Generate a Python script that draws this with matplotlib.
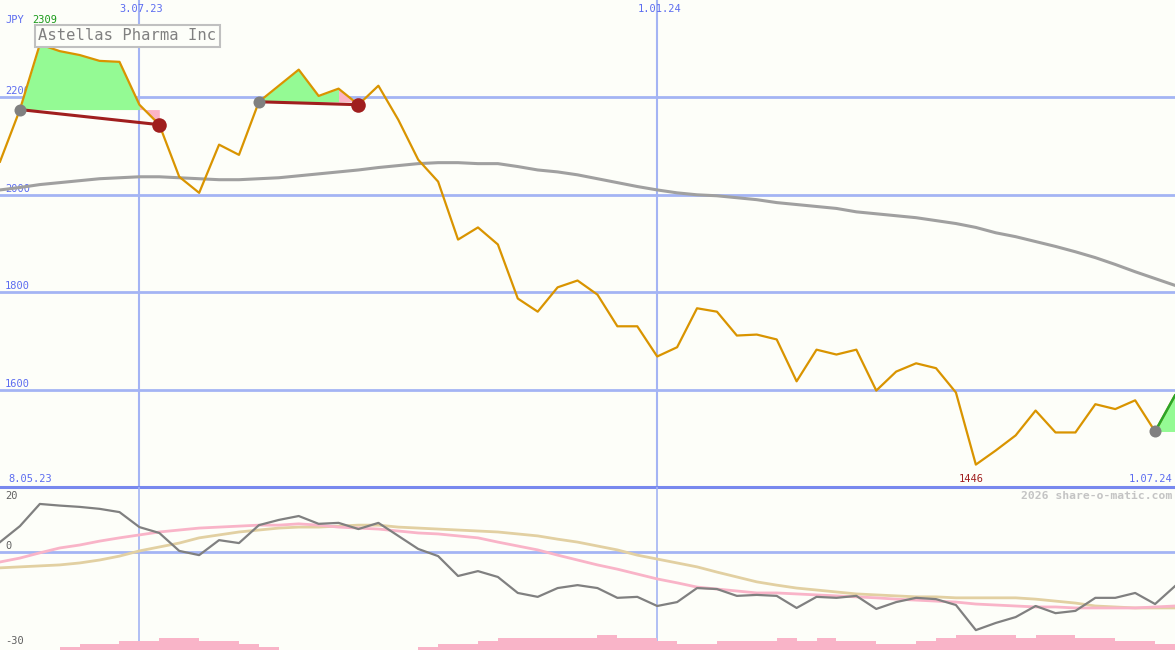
import matplotlib
matplotlib.use("Agg")
import matplotlib.pyplot as plt
import matplotlib.dates as mdates
import pandas as pd
import numpy as np

TITLE = "Astellas Pharma Inc"
CURRENCY = "JPY"

# weekly closes, 15.05.23 .. 1.07.24
dates = pd.date_range("2023-05-15", periods=60, freq="7D")
price = [2068, 2175, 2309, 2295, 2287, 2275, 2273, 2185, 2144, 2037,
         2004, 2103, 2082, 2191, 2224, 2257, 2203, 2218, 2185, 2224,
         2154, 2072, 2027, 1908, 1933, 1898, 1787, 1760, 1810, 1824,
         1795, 1730, 1730, 1668, 1687, 1767, 1760, 1711, 1713, 1703,
         1617, 1682, 1672, 1682, 1598, 1637, 1654, 1644, 1594, 1446,
         1475, 1506, 1557, 1512, 1512, 1570, 1560, 1578, 1514, 1588]
ma_long = [2010, 2015, 2021, 2025, 2029, 2033, 2035, 2037, 2037, 2035,
           2033, 2031, 2031, 2033, 2035, 2039, 2043, 2047, 2051, 2056,
           2060, 2064, 2066, 2066, 2064, 2064, 2058, 2051, 2047, 2041,
           2033, 2025, 2017, 2010, 2004, 2000, 1998, 1994, 1990, 1984,
           1980, 1976, 1972, 1965, 1961, 1957, 1953, 1947, 1941, 1933,
           1922, 1914, 1904, 1894, 1883, 1871, 1857, 1842, 1828, 1814]

# oscillator panel
osc = [3.1, 8.0, 14.8, 14.3, 13.9, 13.3, 12.3, 7.7, 5.9, 0.4,
       -0.9, 3.7, 2.8, 8.3, 9.9, 11.1, 8.7, 9.0, 7.1, 9.0,
       5.0, 1.0, -1.2, -7.3, -5.8, -7.6, -12.5, -13.7, -11.0, -10.1,
       -11.0, -14.0, -13.7, -16.5, -15.3, -11.0, -11.3, -13.4, -13.1, -13.4,
       -17.1, -13.7, -14.0, -13.4, -17.4, -15.3, -14.0, -14.4, -16.2, -23.9,
       -21.7, -19.9, -16.5, -18.7, -18.0, -14.0, -14.0, -12.5, -15.9, -10.4]
osc_pink = [-3.0, -1.8, -0.2, 1.3, 2.2, 3.4, 4.4, 5.3, 6.2, 6.8,
            7.4, 7.7, 8.0, 8.3, 8.3, 8.7, 8.3, 7.7, 7.4, 7.1,
            6.5, 5.9, 5.6, 5.0, 4.4, 3.1, 1.9, 0.7, -0.9, -2.4,
            -3.9, -5.2, -6.7, -8.2, -9.4, -10.7, -11.3, -11.9, -12.5, -12.5,
            -12.8, -13.1, -13.4, -13.7, -14.0, -14.4, -14.7, -15.0, -15.3, -15.9,
            -16.2, -16.5, -16.8, -16.8, -17.1, -17.1, -17.1, -17.1, -16.8, -16.5]
osc_tan = [-4.8, -4.5, -4.2, -3.9, -3.3, -2.4, -1.2, 0.4, 1.6, 2.8,
           4.4, 5.3, 6.2, 6.8, 7.4, 7.7, 7.7, 8.0, 8.3, 8.3,
           7.7, 7.4, 7.1, 6.8, 6.5, 6.2, 5.6, 5.0, 4.0, 3.1,
           1.9, 0.7, -0.9, -2.1, -3.3, -4.5, -6.1, -7.6, -9.1, -10.1,
           -11.0, -11.6, -12.2, -12.8, -13.1, -13.4, -13.7, -13.7, -14.0, -14.0,
           -14.0, -14.0, -14.4, -15.0, -15.6, -16.5, -16.8, -17.1, -17.1, -17.1]
bars = [0, 0, 0, 1, 2, 2, 3, 3, 4, 4,
        3, 3, 2, 1, 0, 0, 0, 0, 0, 0,
        0, 1, 2, 2, 3, 4, 4, 4, 4, 4,
        5, 4, 4, 3, 2, 2, 3, 3, 3, 4,
        3, 4, 3, 3, 2, 2, 3, 4, 5, 5,
        5, 4, 5, 5, 4, 4, 3, 3, 2, 0]

# signals: (buy index, sell index or None)
signals = [(1, 8), (13, 18), (58, None)]

x_ticks = ["2023-07-03", "2024-01-01"]
x_tick_labels = ["3.07.23", "1.01.24"]
y_ticks = [2200, 2000, 1800, 1600]

BG = "#fdfef9"
GRID = "#a4b4f4"
BLUE = "#5c6cf0"
MONO = "DejaVu Sans Mono"

fig = plt.figure(figsize=(11.75, 6.5), dpi=100, facecolor=BG)
ax = fig.add_axes([0, 163 / 650, 1, 487 / 650], facecolor=BG)
ax2 = fig.add_axes([0, 0, 1, 163 / 650], facecolor=BG)
axv = ax2.twinx()

x = mdates.date2num(dates)
p = np.array(price, dtype=float)
xmin, xmax = x[0], x[-1]

for a in (ax, ax2, axv):
    a.set_xlim(xmin, xmax)
    a.axis("off")
ax.set_ylim(1400, 2400)
ax2.set_ylim(-30, 20)
axv.set_ylim(0, 54.3)

# grid
for v in y_ticks:
    ax.axhline(v, color=GRID, lw=2, zorder=1)
    ax.annotate(str(v), xy=(0, v), xycoords=ax.get_yaxis_transform(),
                xytext=(5, 1), textcoords="offset pixels", va="bottom",
                ha="left", color=BLUE, fontsize=7.5, family=MONO, zorder=1)
for d, lab in zip(x_ticks, x_tick_labels):
    xd = mdates.date2num(pd.Timestamp(d))
    ax.axvline(xd, color=GRID, lw=1.5, zorder=1)
    ax2.axvline(xd, color=GRID, lw=1.2, zorder=1)
    ax.annotate(lab, xy=(xd, 1), xycoords=ax.get_xaxis_transform(),
                xytext=(2, -4), textcoords="offset pixels", ha="center",
                va="top", color=BLUE, fontsize=7.5, family=MONO)
ax.axhline(1400, color="#7888ee", lw=2.2, zorder=5, clip_on=False)
ax2.axhline(0, color=GRID, lw=2, zorder=1)

# price, long average
ax.plot(x, ma_long, color="#a0a0a0", lw=2.2, zorder=3)

for b, s in signals:
    lvl = p[b]
    end = s if s is not None else len(p) - 1
    last = end - 1 if s is not None else end
    ax.fill_between(x[b:last + 1], p[b:last + 1], lvl, color="#94fa94",
                    lw=0, zorder=2)
    if s is not None:
        ax.fill_between(x[s - 1:s + 1], p[s - 1:s + 1], lvl, color="#fcb4c6",
                        lw=0, zorder=2)

ax.plot(x, p, color="#d99400", lw=1.6, zorder=4)

for b, s in signals:
    if s is None:
        ax.plot(x[b:], p[b:], color="#2aa52a", lw=1.8, zorder=4)
        ax.scatter([x[b]], [p[b]], s=75, color="#808080", zorder=6, lw=0)
    else:
        ax.plot([x[b], x[s]], [p[b], p[s]], color="#a01e1e", lw=2.2, zorder=5)
        ax.scatter([x[b]], [p[b]], s=75, color="#808080", zorder=6, lw=0)
        ax.scatter([x[s]], [p[s]], s=110, color="#a01e1e", zorder=6, lw=0)

# labels main panel
ax.annotate(CURRENCY, xy=(5, 650 - 20), xycoords="figure pixels", color=BLUE,
            fontsize=7.5, family=MONO, va="center")
ax.annotate(f"{max(price)}", xy=(32, 650 - 20), xycoords="figure pixels",
            color="#1a9a1a", fontsize=7.5, family=MONO, va="center")
ax.annotate(TITLE, xy=(38, 650 - 36), xycoords="figure pixels", color="#808080",
            fontsize=11.2, family=MONO, va="center", ha="left",
            bbox=dict(boxstyle="square,pad=0.22", fc=BG, ec="#c0c0c0", lw=1.5),
            zorder=7)
ax.annotate("8.05.23", xy=(8, 650 - 479), xycoords="figure pixels", color=BLUE,
            fontsize=7.5, family=MONO, va="center")
imin = int(np.argmin(p))
ax.annotate(f"{min(price)}", xy=(x[imin], 1400), xycoords="data",
            xytext=(-5, 8), textcoords="offset pixels", color="#a01e1e",
            fontsize=7.5, family=MONO, va="center", ha="center")
ax.annotate("1.07.24", xy=(1172, 650 - 479), xycoords="figure pixels",
            color=BLUE, fontsize=7.5, family=MONO, va="center", ha="right")
ax.annotate("2026 share-o-matic.com", xy=(1172, 650 - 496),
            xycoords="figure pixels", color="#c4c4c4", fontsize=8.2,
            family=MONO, weight="bold", va="center", ha="right")

# oscillator panel
axv.bar(x, bars, width=7, align="edge", color="#f9b4c8", lw=0, zorder=1)
ax2.plot(x, osc_tan, color="#e2d0a2", lw=2, zorder=3)
ax2.plot(x, osc_pink, color="#f9b4c8", lw=2, zorder=3)
ax2.plot(x, osc, color="#808080", lw=1.6, zorder=4)
for v, yy in (("20", 496), ("0", 546), ("-30", 641)):
    ax2.annotate(v, xy=(5, 650 - yy), xycoords="figure pixels", color="#606060",
                 fontsize=7.5, family=MONO, va="center")

fig.savefig("out.png", dpi=100, facecolor=BG)
